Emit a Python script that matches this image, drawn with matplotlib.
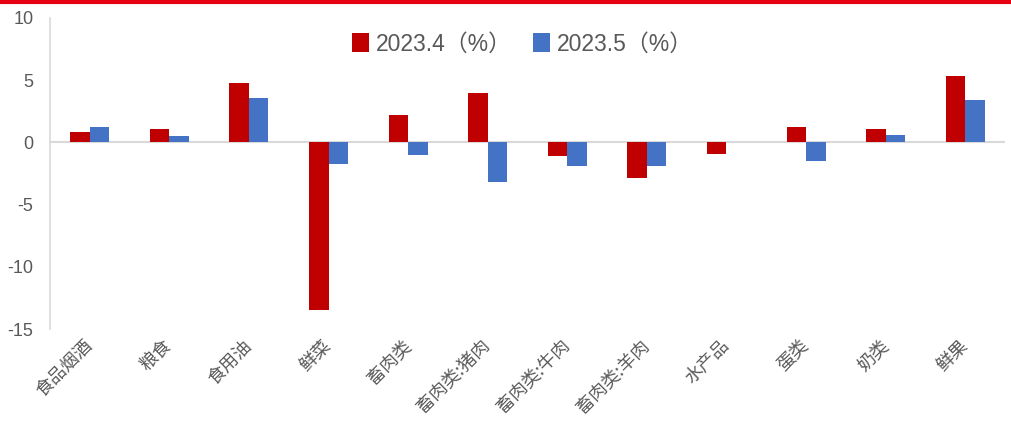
import matplotlib
matplotlib.use("Agg")
import matplotlib.pyplot as plt
import numpy as np

plt.rcParams['font.family'] = ['Noto Sans CJK SC', 'DejaVu Sans']

categories = ["食品烟酒", "粮食", "食用油", "鲜菜", "畜肉类", "畜肉类:猪肉",
              "畜肉类:牛肉", "畜肉类:羊肉", "水产品", "蛋类", "奶类", "鲜果"]
apr_2023 = [0.8, 1.1, 4.8, -13.5, 2.2, 4.0, -1.1, -2.9, -0.9, 1.2, 1.1, 5.3]
may_2023 = [1.2, 0.5, 3.6, -1.7, -1.0, -3.2, -1.9, -1.9, 0.0, -1.5, 0.6, 3.4]
series_labels = ["2023.4（%）", "2023.5（%）"]
y_ticks = [10, 5, 0, -5, -10, -15]

RED = "#C00000"
BLUE = "#4472C4"
GRAY = "#595959"

fig = plt.figure(figsize=(10.11, 4.25), dpi=100)
ax = fig.add_axes([50 / 1011, 96 / 425, 955 / 1011, 311 / 425])

x = np.arange(len(categories))
w = 0.245
ax.bar(x - w / 2, apr_2023, w, color=RED, label=series_labels[0], zorder=2)
ax.bar(x + w / 2, may_2023, w, color=BLUE, label=series_labels[1], zorder=2)

ax.set_xlim(-0.5, len(categories) - 0.5)
ax.set_ylim(-15, 10)
ax.set_yticks(y_ticks)
ax.set_yticklabels([str(t) for t in y_ticks], family='Liberation Sans', fontsize=13, color=GRAY)
ax.tick_params(axis='y', length=0, pad=12)

ax.axhline(0, color="#D9D9D9", lw=1.5, zorder=1)
for s in ["top", "right", "bottom"]:
    ax.spines[s].set_visible(False)
ax.spines["left"].set_color("#D9D9D9")
ax.spines["left"].set_linewidth(1.2)

ax.set_xticks(x)
ax.set_xticklabels([])
ax.tick_params(axis='x', length=0)
for xi, lab in zip(x, categories):
    ax.annotate(lab, xy=(xi, 0), xycoords=('data', 'axes fraction'),
                xytext=(0, -10), textcoords='offset points',
                rotation=45, rotation_mode='anchor', ha='right', va='center',
                fontsize=13, color=GRAY, fontweight='light')

ax.legend(loc='upper center', bbox_to_anchor=(0.495, 1.02), ncol=2, frameon=False,
          handlelength=0.75, handleheight=0.9, handletextpad=0.3,
          columnspacing=0.9, labelcolor=GRAY,
          prop={'family': ['Liberation Sans', 'Noto Sans CJK SC'], 'size': 16.5})

# red rule along the top edge
fig.add_artist(plt.Line2D([0, 1], [1 - 1.5 / 425, 1 - 1.5 / 425], color="#E60012", lw=3, transform=fig.transFigure))

fig.savefig("out.png", dpi=100)
